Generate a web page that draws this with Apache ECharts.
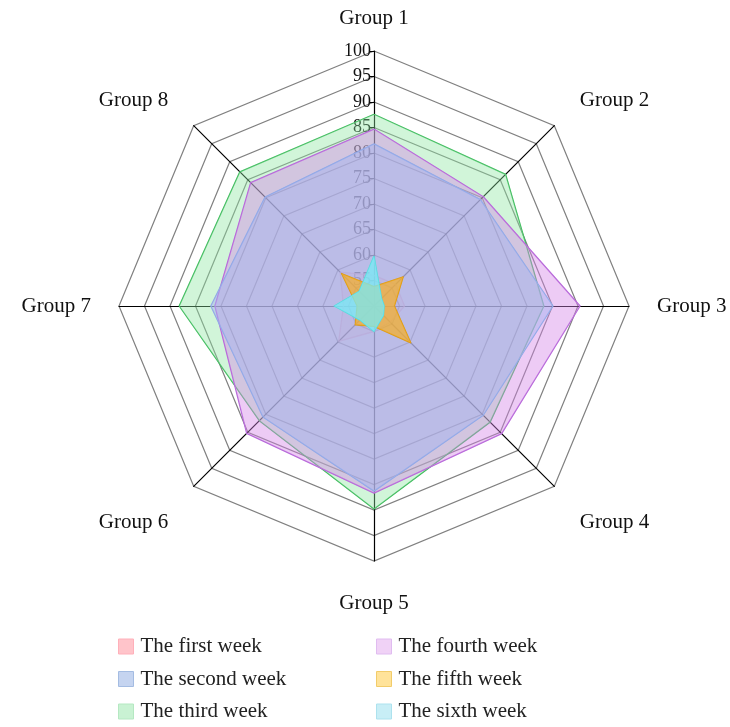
<!DOCTYPE html>
<html>
<head>
<meta charset="utf-8">
<script src="https://cdn.jsdelivr.net/npm/echarts@6/dist/echarts.min.js"></script>
<style>
html, body { margin: 0; padding: 0; background: #fff; }
#main { width: 730px; height: 727px; }
</style>
</head>
<body>
<div id="main"></div>
<script>
var groups = ['Group 1', 'Group 2', 'Group 3', 'Group 4', 'Group 5', 'Group 6', 'Group 7', 'Group 8'];
var weeks = ['The first week', 'The second week', 'The third week', 'The fourth week', 'The fifth week', 'The sixth week'];

// values per group, Group 1 .. Group 8
var firstWeek  = [56, 56, 56, 54.5, 55, 59.8, 56, 59.4];
var secondWeek = [81.8, 79.5, 85.1, 80.3, 86.3, 80.8, 82, 80.2];
var thirdWeek  = [87.6, 86.5, 83.3, 82.2, 89.8, 81.8, 88.2, 87.2];
var fourthWeek = [84.7, 80.3, 90.4, 85.4, 86.7, 85.3, 81.2, 84.2];
var fifthWeek  = [53.8, 58.1, 54, 60.2, 54, 55.2, 53.3, 59];
var sixthWeek  = [59.8, 52.1, 52, 52.6, 55, 53.9, 57.8, 54.1];

var axisMin = 50, axisMax = 100;

var chart = echarts.init(document.getElementById('main'));

// echarts lays indicators out counter-clockwise, the picture goes clockwise
var order = [0, 7, 6, 5, 4, 3, 2, 1];
function reorder(arr) {
    return order.map(function (i) { return arr[i]; });
}

var serif = 'Liberation Serif';

// name gap per group (Group 1 .. Group 8), lower diagonals sit a bit further down
var nameGaps = [22, 36, 28, 36, 32, 36, 28, 36];
var lowNames = ['Group 4', 'Group 6'];

var indicator = order.map(function (gi, i) {
    var ind = { name: groups[gi], min: axisMin, max: axisMax, nameGap: nameGaps[gi] };
    if (i === 0) {
        ind.axisLabel = { show: true, color: '#111', fontSize: 18, fontFamily: serif, margin: 3, showMinLabel: false };
        ind.axisTick = { show: true, length: 4, lineStyle: { color: '#000' } };
    }
    return ind;
});

var styles = [
    { fill: 'rgba(255,140,155,0.22)', line: 'rgba(240,160,180,0.7)', icon: '#ffc4ca', border: '#ffb0ba' },
    { fill: 'rgba(166,179,240,0.5)', line: '#8fa8e6', icon: '#c5d4f0', border: '#a4bce2' },
    { fill: 'rgba(140,230,160,0.4)', line: '#3cb85a', icon: '#c9f2d3', border: '#b5e8c2' },
    { fill: 'rgba(212,130,232,0.42)', line: '#b468d8', icon: '#f0d2f6', border: '#e0bcf0' },
    { fill: 'rgba(245,175,40,0.72)', line: '#d99a1a', icon: '#ffe39a', border: '#f2cc6a' },
    { fill: 'rgba(120,235,245,0.75)', line: '#5ad8dc', icon: '#c8eef6', border: '#ade2ee' }
];
var values = [firstWeek, secondWeek, thirdWeek, fourthWeek, fifthWeek, sixthWeek];
// drawing order: pink, green, purple, blue, orange, cyan
var drawOrder = [0, 2, 3, 1, 4, 5];

var series = drawOrder.map(function (k) {
    return {
        name: weeks[k],
        type: 'radar',
        symbol: 'none',
        lineStyle: { color: styles[k].line, width: 1.3 },
        itemStyle: { color: styles[k].icon },
        areaStyle: { color: styles[k].fill, opacity: 1 },
        data: [{ name: weeks[k], value: reorder(values[k]) }]
    };
});

function legendItems(from, to) {
    var out = [];
    for (var k = from; k < to; k++) {
        out.push({
            name: weeks[k],
            itemStyle: { color: styles[k].icon, borderColor: styles[k].border, borderWidth: 1 }
        });
    }
    return out;
}

var legendBase = {
    orient: 'vertical',
    top: 636,
    height: 120,
    padding: 0,
    icon: 'rect',
    itemWidth: 15,
    itemHeight: 15,
    itemGap: 11.5,
    textStyle: { fontSize: 21, fontFamily: serif, color: '#222', padding: [0, 0, 0, 2] }
};

var option = {
    animation: false,
    legend: [
        Object.assign({}, legendBase, { left: 118, data: legendItems(0, 3) }),
        Object.assign({}, legendBase, { left: 376, data: legendItems(3, 6) })
    ],
    radar: {
        center: [374, 306],
        radius: 255,
        startAngle: 90,
        splitNumber: 10,
        shape: 'polygon',
        nameGap: 28,
        axisName: {
            color: '#111', fontSize: 21, fontFamily: serif,
            formatter: function (name) {
                return lowNames.indexOf(name) >= 0 ? '{low|' + name + '}' : name;
            },
            rich: {
                low: { color: '#111', fontSize: 21, fontFamily: serif, padding: [22, 0, 0, 0] }
            }
        },
        axisLine: { lineStyle: { color: '#000', width: 1.2 } },
        splitLine: { lineStyle: { color: '#808080', width: 1.2 } },
        splitArea: { show: false },
        axisLabel: { show: false },
        indicator: indicator
    },
    series: series
};

chart.setOption(option);
</script>
</body>
</html>
